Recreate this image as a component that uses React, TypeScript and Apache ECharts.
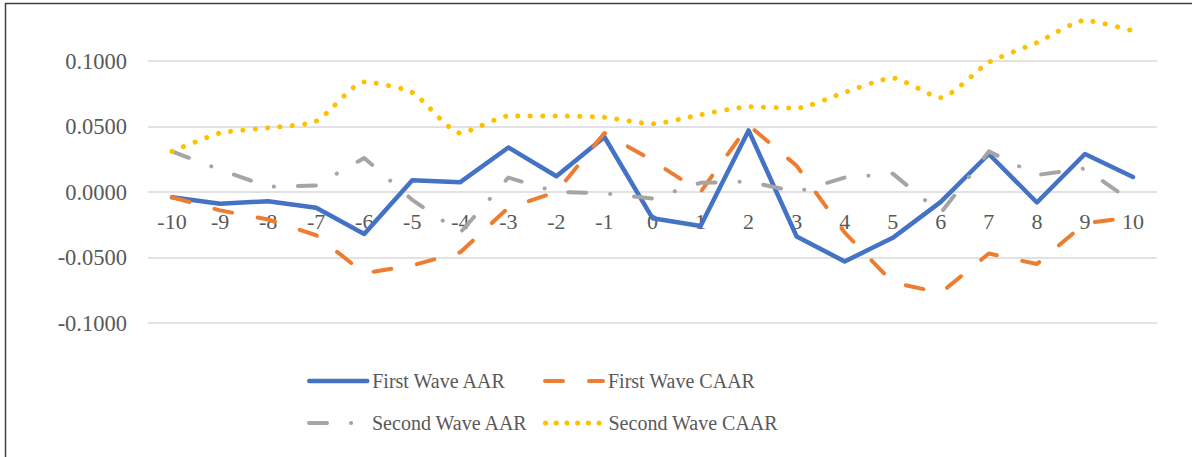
import React, { useEffect, useRef } from "react";
import * as echarts from "echarts";

const categories = ["-10","-9","-8","-7","-6","-5","-4","-3","-2","-1","0","1","2","3","4","5","6","7","8","9","10"];
const firstWaveAAR = [-0.004, -0.009, -0.007, -0.012, -0.032, 0.009, 0.0075, 0.034, 0.012, 0.042, -0.020, -0.026, 0.047, -0.034, -0.053, -0.035, -0.0075, 0.029, -0.008, 0.029, 0.0115];
const firstWaveCAAR = [-0.004, -0.014, -0.021, -0.033, -0.062, -0.056, -0.046, -0.012, 0.000, 0.045, 0.024, 0.000, 0.051, 0.020, -0.031, -0.069, -0.077, -0.047, -0.055, -0.024, -0.019];
const secondWaveAAR = [0.031, 0.017, 0.004, 0.005, 0.026, -0.006, -0.031, 0.011, 0.000, -0.001, -0.005, 0.007, 0.008, 0.000, 0.011, 0.014, -0.016, 0.031, 0.013, 0.018, -0.008];
const secondWaveCAAR = [0.031, 0.045, 0.049, 0.054, 0.084, 0.076, 0.045, 0.058, 0.058, 0.057, 0.052, 0.059, 0.065, 0.064, 0.076, 0.087, 0.072, 0.099, 0.114, 0.131, 0.123];
const seriesNames = ["First Wave AAR", "First Wave CAAR", "Second Wave AAR", "Second Wave CAAR"];
const yTicks = { min: -0.1, max: 0.1, interval: 0.05 };

const FONT = "'Liberation Serif', 'Times New Roman', serif";
const TEXT_COLOR = "#595959";

const styles = [
  { color: "#4472C4", width: 4.5, type: "solid" as any },
  { color: "#ED7D31", width: 4, type: [18, 26] },
  { color: "#A5A5A5", width: 4, type: [18, 24, 0.1, 24] },
  { color: "#FFC000", width: 5, type: [0.1, 10.6] },
];

export default function App() {
  const ref = useRef<HTMLDivElement>(null);
  useEffect(() => {
    if (!ref.current) return;
    const chart = echarts.init(ref.current, undefined, { renderer: "svg" });
    const legendText = { fontSize: 20, color: TEXT_COLOR, fontFamily: FONT };
    const mkLegend = (i: number, left: number, top: number) => ({
      data: [seriesNames[i]],
      left,
      top,
      padding: 0,
      itemWidth: 58,
      itemHeight: 14,
      itemGap: 0,
      textStyle: legendText,
      selectedMode: false,
      itemStyle: { color: "rgba(0,0,0,0)", borderWidth: 0, opacity: 0 },
      lineStyle: {
        color: styles[i].color,
        width: styles[i].width,
        type: styles[i].type,
        cap: "round",
        opacity: 1,
      },
    });
    const yZeroOffset = -131;
    chart.setOption({
      animation: false,
      backgroundColor: "#ffffff",
      graphic: [
        {
          type: "rect",
          shape: { x: 5.5, y: 3.5, width: 1300, height: 600 },
          style: { fill: "none", stroke: "#404040", lineWidth: 1.5 },
          silent: true,
        },
      ],
      grid: { left: 148, right: 35, top: 61, bottom: 134 },
      legend: [
        mkLegend(0, 307, 371),
        mkLegend(1, 543, 371),
        mkLegend(2, 307, 413),
        mkLegend(3, 543, 413),
      ],
      xAxis: {
        type: "category",
        data: categories,
        boundaryGap: true,
        position: "bottom",
        offset: yZeroOffset,
        axisLine: { show: false, onZero: false },
        axisTick: { show: false },
        axisLabel: { margin: 18, fontSize: 22, color: TEXT_COLOR, fontFamily: FONT },
        splitLine: { show: false },
      },
      yAxis: {
        type: "value",
        min: yTicks.min,
        max: yTicks.max,
        interval: yTicks.interval,
        axisLine: { show: false },
        axisTick: { show: false },
        axisLabel: {
          margin: 21,
          fontSize: 22.5,
          color: TEXT_COLOR,
          fontFamily: FONT,
          formatter: (v: number) => v.toFixed(4),
        },
        splitLine: { show: true, lineStyle: { color: "#d9d9d9", width: 1.5 } },
      },
      series: [
        {
          name: seriesNames[0],
          type: "line",
          data: firstWaveAAR,
          symbol: "none",
          clip: false,
          lineStyle: { color: styles[0].color, width: styles[0].width, cap: "round", join: "round" },
          itemStyle: { color: styles[0].color },
        },
        {
          name: seriesNames[1],
          type: "line",
          data: firstWaveCAAR,
          symbol: "none",
          clip: false,
          lineStyle: { color: styles[1].color, width: styles[1].width, type: styles[1].type, cap: "round", join: "round" },
          itemStyle: { color: styles[1].color },
        },
        {
          name: seriesNames[2],
          type: "line",
          data: secondWaveAAR,
          symbol: "none",
          clip: false,
          lineStyle: { color: styles[2].color, width: styles[2].width, type: styles[2].type, cap: "round", join: "round" },
          itemStyle: { color: styles[2].color },
        },
        {
          name: seriesNames[3],
          type: "line",
          data: secondWaveCAAR,
          symbol: "none",
          smooth: 0.2,
          clip: false,
          lineStyle: { color: styles[3].color, width: styles[3].width, type: [0.1, 12.3], cap: "round", join: "round" },
          itemStyle: { color: styles[3].color },
        },
      ],
    });
    return () => chart.dispose();
  }, []);
  return (
    <div
      ref={ref}
      style={{ position: "fixed", left: 0, top: 0, width: 1192, height: 457, background: "#fff" }}
    />
  );
}
